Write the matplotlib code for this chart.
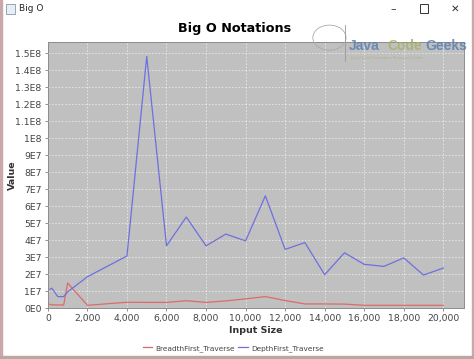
import matplotlib
matplotlib.use('Agg')
from matplotlib import pyplot as plt
from matplotlib.ticker import FuncFormatter, MultipleLocator
from matplotlib.patches import Rectangle
import math

input_size = [100, 200, 500, 800, 1000, 2000, 3000, 4000, 5000, 6000, 7000,
              8000, 9000, 10000, 11000, 12000, 13000, 14000, 15000, 16000,
              17000, 18000, 19000, 20000]
breadth_first = [2.2e6, 1.9e6, 1.8e6, 1.8e6, 1.47e7, 1.6e6, 2.5e6, 3.4e6,
                 3.3e6, 3.3e6, 4.3e6, 3.3e6, 4.2e6, 5.4e6, 6.7e6, 4.4e6,
                 2.4e6, 2.4e6, 2.3e6, 1.6e6, 1.6e6, 1.6e6, 1.6e6, 1.6e6]
depth_first = [1.1e7, 1.17e7, 6.7e6, 6.7e6, 9.5e6, 1.84e7, 2.45e7, 3.06e7,
               1.48e8, 3.66e7, 5.35e7, 3.66e7, 4.35e7, 3.95e7, 6.6e7, 3.45e7,
               3.85e7, 1.96e7, 3.25e7, 2.57e7, 2.45e7, 2.95e7, 1.94e7, 2.35e7]
series_names = ['BreadthFirst_Traverse', 'DepthFirst_Traverse']


def sci_label(v, pos):
    if abs(v) < 1:
        return '0E0'
    e = int(math.floor(math.log10(abs(v)) + 1e-9))
    m = round(v / 10 ** e, 3)
    return '%gE%d' % (m, e)


def big_o_chart():
    plt.rcParams['font.family'] = ['DejaVu Sans']
    fig = plt.figure(figsize=(4.74, 3.59), dpi=100)
    fig.patch.set_facecolor('white')

    # window chrome
    fig.add_artist(Rectangle((0, 0), 0.005, 1, transform=fig.transFigure,
                             color='#c9a8a8', zorder=0))
    fig.add_artist(Rectangle((0.995, 0), 0.005, 1, transform=fig.transFigure,
                             color='#c9a8a8', zorder=0))
    fig.add_artist(Rectangle((0, 0), 1, 0.009, transform=fig.transFigure,
                             color='#b8a8a0', zorder=0))
    fig.add_artist(Rectangle((0.012, 0.962), 0.02, 0.028, transform=fig.transFigure,
                             facecolor='#e8eef4', edgecolor='#8899aa', lw=0.6))
    fig.text(0.04, 0.976, 'Big O', fontsize=6.5, va='center', color='#222222')
    fig.text(0.829, 0.976, '\u2013', fontsize=8, va='center', ha='center', color='#333333')
    fig.add_artist(Rectangle((0.886, 0.964), 0.018, 0.024, transform=fig.transFigure,
                             facecolor='none', edgecolor='#333333', lw=0.7))
    fig.text(0.96, 0.976, '\u2715', fontsize=7.5, va='center', ha='center', color='#333333')

    ax = fig.add_axes([0.101, 0.142, 0.878, 0.741])
    ax.set_facecolor('#c0c0c0')
    ax.plot(input_size, breadth_first, color='#dd6a6a', lw=0.9,
            label=series_names[0])
    ax.plot(input_size, depth_first, color='#6f6fe0', lw=0.9,
            label=series_names[1])

    ax.set_xlim(0, 21050)
    ax.set_ylim(0, 1.565e8)
    ax.xaxis.set_major_locator(MultipleLocator(2000))
    ax.yaxis.set_major_locator(MultipleLocator(1e7))
    ax.xaxis.set_major_formatter(FuncFormatter(lambda v, p: '{:,.0f}'.format(v)))
    ax.yaxis.set_major_formatter(FuncFormatter(sci_label))
    ax.tick_params(labelsize=6.7, length=2, width=0.6, color='#808080',
                   labelcolor='#444444', pad=2.5)
    ax.grid(True, color='white', lw=0.6, ls=(0, (2, 2)), alpha=0.65)
    ax.set_axisbelow(True)
    for s in ax.spines.values():
        s.set_color('#8c8c8c')
        s.set_linewidth(0.7)

    ax.set_xlabel('Input Size', fontsize=6.8, fontweight='bold', labelpad=2,
                  color='#333333')
    ax.set_ylabel('Value', fontsize=6.8, fontweight='bold', color='#333333')
    ax.yaxis.set_label_coords(-0.075, 0.5)
    fig.suptitle('Big O Notations', x=0.494, y=0.94, fontsize=9.2,
                 fontweight='bold')

    fig.legend(loc='center', bbox_to_anchor=(0.492, 0.03), ncol=2, frameon=False,
               fontsize=5.3, handlelength=1.3, columnspacing=0.5,
               handletextpad=0.4, labelcolor='#444444')

    # watermark logo
    fig.add_artist(plt.Circle((0.695, 0.895), 0.035, transform=fig.transFigure,
                              fill=False, ec='#aaaaaa', lw=0.6))
    fig.add_artist(plt.Line2D([0.728, 0.728], [0.83, 0.93], color='#999999',
                              lw=0.6, transform=fig.transFigure))
    logo = dict(fontsize=10, fontweight='bold', alpha=0.85, va='center',
                family='Liberation Sans')
    fig.text(0.736, 0.872, 'Java', color='#5b80b2', **logo)
    fig.text(0.818, 0.872, 'Code', color='#a6b26a', **logo)
    fig.text(0.898, 0.872, 'Geeks', color='#5b80b2', **logo)
    fig.text(0.738, 0.838, 'Java 2 Java Developers Resource Center', fontsize=2.6,
             color='#a6b26a', alpha=0.8, va='center')
    return fig


if __name__ == '__main__':
    fig = big_o_chart()
    fig.savefig('out.png', dpi=100)
